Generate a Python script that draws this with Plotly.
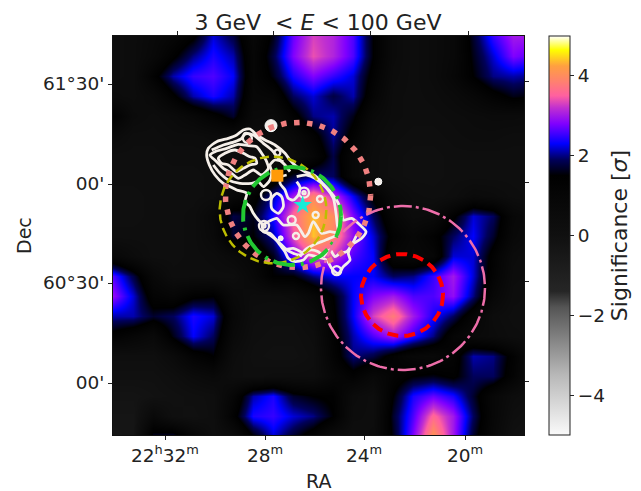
import plotly.graph_objects as go
import math

W, H = 641, 491
# Map frame: sky-map pixel units (0.33 screen px), origin arbitrary
X_RANGE = [-231, 1002]
Y_RANGE = [975, -222]

GRID_X = [-231 + 60 * i for i in range(22)]
GRID_Y = [-222 + 60 * i for i in range(21)]

SIGNIF = [
 [.3,.4,.7,1.0,1.4,2.2,1.8,.9,1.6,2.7,3.3,3.1,2.6,1.5,.6,.3,.5,.8,1.7,2.5,3.0,3.0],
 [.3,.4,.8,1.4,2.0,2.4,2.1,1.0,1.8,2.8,3.4,3.1,2.6,1.5,.6,.3,.5,.8,1.6,2.2,2.8,2.6],
 [.3,.4,1.3,2.1,2.5,2.6,2.3,1.0,1.6,2.4,2.8,2.5,2.2,1.3,.5,.3,.5,.9,1.5,2.0,2.1,2.0],
 [.5,.4,.7,1.4,2.1,2.4,2.1,.9,1.0,1.9,2.2,1.8,2.1,1.1,.4,.3,.4,.6,.9,1.3,1.6,1.5],
 [1.4,.6,.4,.6,.9,1.3,1.7,.7,.6,1.3,2.0,2.1,1.6,.7,.4,.3,.3,.4,.5,.6,.6,.5],
 [.6,.3,.3,.4,.4,.5,.6,.4,.4,.7,1.3,2.05,1.3,.5,.3,.2,.2,.3,.4,.4,.3,.3],
 [.2,.2,.2,.3,.3,.3,.3,.3,.3,.5,1.0,1.8,.9,.4,.2,.1,.1,.2,.2,.2,.2,.2],
 [.2,.2,.2,.2,.2,.3,.3,.4,1.0,1.7,2.0,1.9,.9,.4,.2,.1,.1,.2,.2,.2,.2,.2],
 [.1,.1,.2,.2,.2,.3,.8,1.3,2.1,3.0,3.9,3.2,2.3,1.4,.6,.3,.2,.3,.6,.5,.3,.2],
 [.1,.1,.2,.2,.3,.8,1.8,1.6,2.4,3.6,4.4,4.0,2.8,1.9,1.0,.5,.6,1.4,2.2,1.9,.9,.6],
 [.2,.2,.2,.2,.3,.7,1.7,1.5,2.1,3.4,4.4,3.9,2.9,2.2,1.3,.9,1.3,1.9,2.3,1.7,.8,.5],
 [.9,.5,.2,.2,.3,.4,.7,1.0,1.6,2.7,3.5,3.3,2.6,2.3,1.0,.8,1.0,2.2,2.2,1.3,.5,.3],
 [2.6,1.8,.8,.3,.3,.3,.3,.8,1.5,1.5,2.0,2.3,2.3,2.3,1.9,2.0,2.5,3.0,2.2,1.2,.4,.3],
 [2.9,2.2,1.2,1.0,1.4,1.5,.7,.4,.4,.5,.9,1.5,2.3,2.8,3.0,2.6,2.6,2.9,2.0,.9,.3,.2],
 [2.1,2.1,1.7,1.9,2.4,2.2,.9,.3,.2,.2,.5,1.4,2.3,3.3,3.8,3.0,2.4,1.9,1.1,.4,.2,.2],
 [1.3,1.0,.7,1.6,2.3,1.9,.7,.2,.1,.1,.3,1.3,2.1,2.6,3.0,2.5,2.0,1.1,.7,.5,.3,.2],
 [.2,.2,.2,.6,1.2,1.5,.4,.1,.0,.0,.2,1.2,2.0,1.8,1.3,.9,.8,1.2,2.1,2.0,1.3,.4],
 [.0,.0,.0,.2,.5,.7,.3,.2,.3,.3,.3,.9,1.3,.8,1.2,1.5,1.6,1.4,1.9,1.9,1.2,.3],
 [-.2,-.2,-.1,.0,.1,.2,1.0,2.1,2.4,1.7,1.5,1.4,.5,.3,1.5,2.4,2.7,2.4,1.7,.9,.4,.2],
 [-.3,-.3,.7,.1,.0,.2,1.3,2.4,2.5,2.2,2.0,1.5,.4,.3,1.7,2.6,3.6,3.0,1.9,.9,.2,.0],
 [-.4,-.3,1.7,1.8,.9,.2,.5,1.5,2.2,1.7,1.2,.5,.2,.4,1.6,2.8,4.1,3.0,1.7,.8,.0,-.2],
]

SCALE_POS = [0, .15, .32, .36, .5, .6, .65, .69, .73, .78, .82, .85, .885, .925, .965, 1]
SCALE_COL = ["#fafafa", "#b8b8b8", "#555555", "#262626", "#101010", "#060606", "#000000", "#00005a",
             "#0000ff", "#8000ff", "#c030d0", "#ff60a0", "#ff8070", "#ffa040", "#ffff00", "#ffffff"]

CONTOURS = [
 ([160,180,200,225,255,285,300,320,345,375,400,425,445,455,460,485,510,528,515,485,475,480,460,445,425,410,385,355,340,315,295,285,270,255,240,220,215,205,190,180,165,170,140,120,100,75,58,50,55,80,115,140,160],
  [60,57,75,90,105,130,150,170,185,197,222,250,280,310,330,325,345,365,385,405,430,450,470,490,475,450,442,435,450,455,445,425,405,385,370,365,340,330,310,290,275,250,240,230,220,195,165,135,115,95,85,75,60]),
 ([65,100,135,155,165,190,220,245,270,285,300],
  [120,105,95,85,70,75,100,120,150,165,185]),
 ([60,75,110,145,175,200,215,230,235,215,190,165,145,125,100,80,60],
  [135,125,115,103,107,110,130,155,175,195,180,195,205,190,175,155,135]),
 ([85,105,135,160,180,195,200,180,160,140,115,95,85],
  [145,130,120,130,140,145,160,165,175,185,165,160,145]),
 ([70,90,115,150,185,205,220,240,245,240,255,280],
  [165,190,210,220,220,215,230,210,185,165,150,155]),
 ([245,260,275,280,265,245,245],[265,250,260,290,310,295,265]),
 ([320,350,375,410,430,438,442,445,440,420,395,370,345,330],
  [200,195,205,235,265,310,345,365,375,385,395,405,420,440]),
 ([320,330,325,310,295,285,270,275,290],[215,232,255,270,265,240,220,200,195]),
 ([215,235,260,280,320,345,355,370,395,420,445],[345,335,325,345,345,380,370,335,370,365,370]),
 ([215,240,265,285,300,330,360,385,400],[360,375,395,415,425,435,420,425,440]),
 ([400,420,435,450,470,485,500],[440,420,440,430,425,405,375]),
 ([280,310,340],[420,415,430]),
]

RING_X = [342, 342, 390, 377, 305, 318, 222, 222, 172, 228, 262, 440]
RING_Y = [248, 248, 267, 315, 330, 378, 348, 348, 85, 255, 128, 482]
RING_D = [10, 3, 6, 6, 8, 6, 10, 3, 9, 10, 6, 9]
DOT_X = [243, 565, 272]
DOT_Y = [47, 215, 385]
DOT_D = [12, 7, 5]

CIRC = [
 dict(name="salmon", c=(324, 255), r=218, col="#f08080", w=5.5, dash="5.5px,7.5px"),
 dict(name="yellow", c=(249, 300), r=160, col="#bdbd00", w=2.5, dash="9px,5px"),
 dict(name="green", c=(306, 318), r=147, col="#22c832", w=4, dash="22px,6px,3px,6px"),
 dict(name="pink", c=(639, 534), r=246, col="#ee6eaa", w=2.5, dash="18px,4px,3px,4px"),
 dict(name="red", c=(636, 555), r=123, col="#ff0000", w=4, dash="11px,6px"),
]

SRC_X, SRC_Y = [262], [197]
STAR_X, STAR_Y = [338], [285]

BOTTOM_VALS = [-75, 225, 522, 825]
BOTTOM_TEXT = ["22<sup>h</sup>32<sup>m</sup>", "28<sup>m</sup>", "24<sup>m</sup>", "20<sup>m</sup>"]
TOP_VALS = [-39, 249, 540, 834]
LEFT_VALS = [-78, 222, 519, 819]
LEFT_TEXT = ["61°30'", "00'", "60°30'", "00'"]
RIGHT_VALS = [-87, 216, 513, 813]
CB_TICKS = [-4, -2, 0, 2, 4]

FONT = "DejaVu Sans"
TICKF = 18.5
fig = go.Figure()
fig.add_trace(go.Heatmap(
    x=GRID_X, y=GRID_Y, z=SIGNIF, zmin=-5, zmax=5, zsmooth="best",
    colorscale=[[p, c] for p, c in zip(SCALE_POS, SCALE_COL)],
    colorbar=dict(
        x=549 / W, xanchor="left", xref="paper", thicknessmode="pixels", thickness=21,
        lenmode="pixels", len=399, y=1 - 435 / H, yanchor="bottom", yref="paper", ypad=0, xpad=0,
        outlinewidth=1, outlinecolor="#222", tickvals=CB_TICKS,
        ticktext=["−4", "−2", "0", "2", "4"], ticks="outside", ticklen=4,
        tickcolor="#222", tickfont=dict(size=TICKF, color="#222", family=FONT),
        title=dict(text="Significance [<i>σ</i>]", side="right", font=dict(size=22, color="#222", family=FONT)),
    ),
))
for cx, cy in CONTOURS:
    fig.add_trace(go.Scatter(x=cx, y=cy, mode="lines", showlegend=False, hoverinfo="skip",
                             line=dict(color="#f5efe9", width=2.8, shape="spline", smoothing=0.7)))
fig.add_trace(go.Scatter(x=RING_X, y=RING_Y, mode="markers", showlegend=False,
                         marker=dict(symbol="circle-open", size=RING_D, color="#f5efe9", opacity=1,
                                     line=dict(width=2.4, color="#f5efe9"))))
fig.add_trace(go.Scatter(x=DOT_X, y=DOT_Y, mode="markers", showlegend=False,
                         marker=dict(symbol="circle", size=DOT_D, color="#f5efe9", opacity=1)))

for c in CIRC:
    pts = 241
    xs = [c["c"][0] + c["r"] * math.cos(2 * math.pi * i / (pts - 1)) for i in range(pts)]
    ys = [c["c"][1] + c["r"] * math.sin(2 * math.pi * i / (pts - 1)) for i in range(pts)]
    fig.add_trace(go.Scatter(x=xs, y=ys, mode="lines", showlegend=False, hoverinfo="skip",
                             line=dict(color=c["col"], width=c["w"], dash=c["dash"])))

fig.add_trace(go.Scatter(x=SRC_X, y=SRC_Y, mode="markers", showlegend=False,
                         marker=dict(symbol="square", size=12, color="#ff9a0a", opacity=1)))
fig.add_trace(go.Scatter(x=STAR_X, y=STAR_Y, mode="markers", showlegend=False,
                         marker=dict(symbol="star", size=14, color="#17ecd8", opacity=1)))
fig.add_trace(go.Scatter(x=[], y=[], xaxis="x2", yaxis="y2", showlegend=False))

tick = dict(ticks="outside", ticklen=4, tickcolor="#222", tickwidth=1)
dom_x = [113 / W, 524 / W]
dom_y = [1 - 435 / H, 1 - 36 / H]
fig.update_layout(
    width=W, height=H, margin=dict(l=0, r=0, t=0, b=0),
    paper_bgcolor="white", plot_bgcolor="black", showlegend=False,
    font=dict(family=FONT, color="#222"),
    title=dict(text="3 GeV  &lt; <i>E</i> &lt; 100 GeV", x=318 / W, xanchor="center", y=1 - 22 / H,
               yanchor="middle", font=dict(size=22, color="#222", family=FONT)),
    xaxis=dict(domain=dom_x, range=X_RANGE, tickmode="array", tickvals=BOTTOM_VALS, ticktext=BOTTOM_TEXT,
               tickfont=dict(size=TICKF, color="#222", family=FONT), showgrid=False, zeroline=False,
               showline=True, linecolor="#111", linewidth=1, mirror=True, **tick),
    yaxis=dict(domain=dom_y, range=Y_RANGE, tickmode="array", tickvals=LEFT_VALS, ticktext=LEFT_TEXT,
               tickfont=dict(size=TICKF, color="#222", family=FONT), showgrid=False, zeroline=False,
               showline=True, linecolor="#111", linewidth=1, mirror=True, **tick),
    xaxis2=dict(domain=dom_x, range=X_RANGE, overlaying="x", side="top", anchor="y2", tickmode="array",
                tickvals=TOP_VALS, showticklabels=False, showgrid=False, zeroline=False, **tick),
    yaxis2=dict(domain=dom_y, range=Y_RANGE, overlaying="y", side="right", anchor="x2", tickmode="array",
                tickvals=RIGHT_VALS, showticklabels=False, showgrid=False, zeroline=False, **tick),
    annotations=[
        dict(text="RA", x=318 / W, y=1 - 481 / H, xref="paper", yref="paper", showarrow=False,
             xanchor="center", yanchor="middle", font=dict(size=19, color="#222", family=FONT)),
        dict(text="Dec", x=24 / W, y=1 - 236 / H, xref="paper", yref="paper", showarrow=False, textangle=-90,
             xanchor="center", yanchor="middle", font=dict(size=19, color="#222", family=FONT)),
    ],
)
fig.write_html("out.html", config={"displayModeBar": False},
               post_script="document.body.style.margin='0';document.body.style.overflow='hidden';")
